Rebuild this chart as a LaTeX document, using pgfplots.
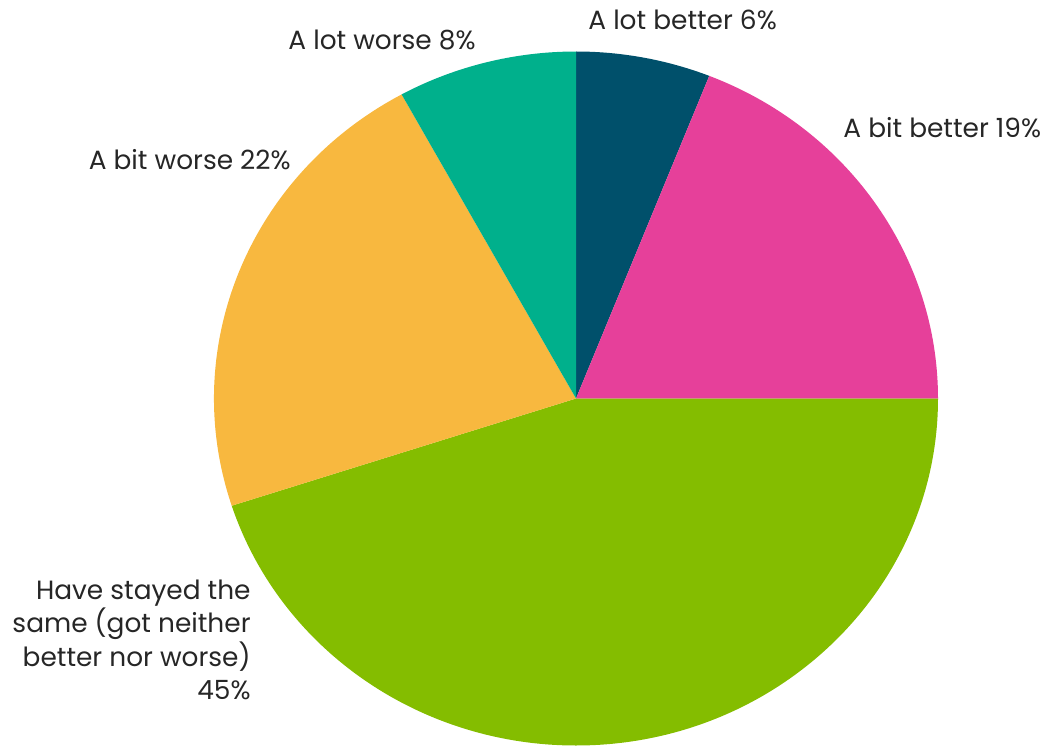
\documentclass[border=0pt]{standalone}
\usepackage{pgfplots}
\pgfplotsset{compat=1.18}
\usepackage{fontspec}
\setmainfont{Poppins}
\definecolor{c1}{HTML}{00506B}
\definecolor{c2}{HTML}{E6409A}
\definecolor{c3}{HTML}{84BD00}
\definecolor{c4}{HTML}{F8B83F}
\definecolor{c5}{HTML}{00B08C}
\definecolor{txt}{HTML}{262626}
\begin{document}
\begin{tikzpicture}
\begin{axis}[hide axis, scale only axis, width=521.5pt, height=373pt,
  xmin=0, xmax=1043, ymin=0, ymax=746, clip=false]
\addplot[draw=none, forget plot] coordinates {(0,0) (1043,746)};
\pgfplotsextra{
  \gdef\cum{90}
  \foreach \v/\c in {6/c1,19/c2,45/c3,22/c4,8/c5}{
    \pgfmathsetmacro\a{\cum}
    \pgfmathsetmacro\b{\cum-3.6*\v}
    \fill[\c] (axis cs:576,347.5) -- ++(\a:181pt and 173.5pt)
      arc[start angle=\a, end angle=\b, x radius=181pt, y radius=173.5pt] -- cycle;
    \xdef\cum{\b}
  }
}
\begin{scope}[every node/.style={text=txt, font=\fontsize{13.2pt}{16.7pt}\selectfont, inner sep=0pt}]
\node[anchor=west] at (axis cs:588,726) {A lot better 6\%};
\node[anchor=west] at (axis cs:843,618) {A bit better 19\%};
\node[anchor=east] at (axis cs:476,706) {A lot worse 8\%};
\node[anchor=east] at (axis cs:291,586) {A bit worse 22\%};
\node[anchor=east, align=right] at (axis cs:251,106) {Have stayed the\\same (got neither\\better nor worse)\\45\%};
\end{scope}
\end{axis}
\end{tikzpicture}
\end{document}
